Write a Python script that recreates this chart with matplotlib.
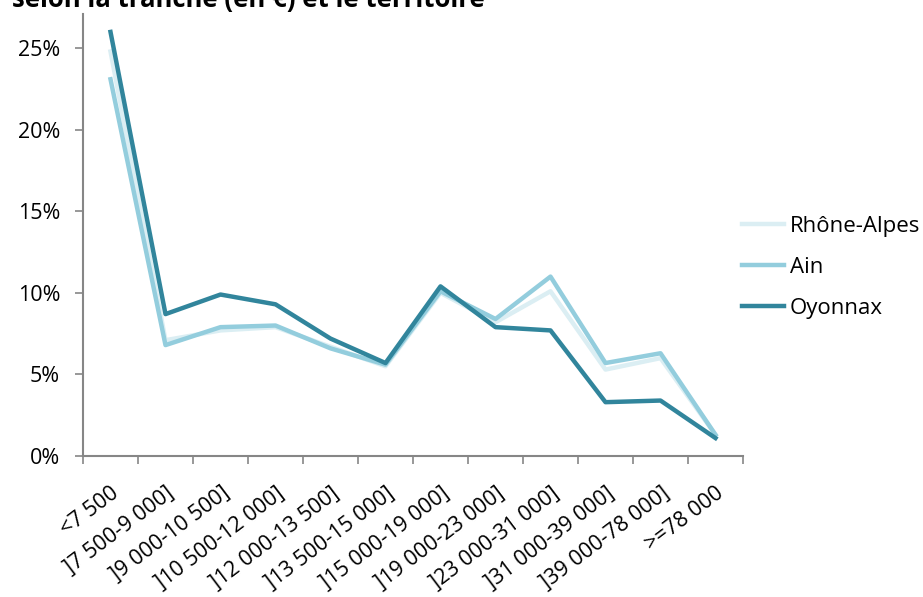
import numpy as np
import matplotlib
matplotlib.use("Agg")
import matplotlib.pyplot as plt

plt.rcParams['font.family'] = ['Open Sans', 'DejaVu Sans']

categories = ['<7 500', ']7 500-9 000]', ']9 000-10 500]', ']10 500-12 000]',
              ']12 000-13 500]', ']13 500-15 000]', ']15 000-19 000]', ']19 000-23 000]',
              ']23 000-31 000]', ']31 000-39 000]', ']39 000-78 000]', '>=78 000']

rhone_alpes = [24.8, 7.1, 7.7, 7.9, 6.7, 5.5, 10.0, 8.2, 10.1, 5.3, 6.0, 1.3]
ain = [23.1, 6.8, 7.9, 8.0, 6.6, 5.6, 10.1, 8.4, 11.0, 5.7, 6.3, 1.3]
oyonnax = [26.0, 8.7, 9.9, 9.3, 7.2, 5.7, 10.4, 7.9, 7.7, 3.3, 3.4, 1.1]

series = [('Rhône-Alpes', rhone_alpes, '#dbeef3'),
          ('Ain', ain, '#93cddd'),
          ('Oyonnax', oyonnax, '#31859c')]

fig = plt.figure(figsize=(9.23, 5.97), dpi=100)
ax = fig.add_axes([83/923, 141/597, 660/923, 442/597])

x = np.arange(len(categories))
for name, vals, col in series:
    ax.plot(x, vals, color=col, lw=3.2, label=name)

ax.set_xlim(-0.5, len(categories) - 0.5)
ax.set_ylim(0, 27.1)
ax.set_yticks([0, 5, 10, 15, 20, 25])
ax.set_yticklabels(['0%', '5%', '10%', '15%', '20%', '25%'], fontsize=15.5)

# ticks on category boundaries, labels at centres
ax.set_xticks(np.arange(-0.5, len(categories)))
ax.set_xticklabels([])
ax.set_xticks(x, minor=True)
ax.set_xticklabels(categories, minor=True, rotation=37, ha='right',
                   rotation_mode='anchor', fontsize=15.5)
ax.tick_params(axis='x', which='minor', length=0, pad=19)
ax.tick_params(axis='x', which='major', length=5.5, color='#868686', width=1.2)
ax.tick_params(axis='y', length=5.5, color='#868686', width=1.2, pad=11)

for s in ['top', 'right']:
    ax.spines[s].set_visible(False)
for s in ['left', 'bottom']:
    ax.spines[s].set_color('#868686')
    ax.spines[s].set_linewidth(1.5)

fig.legend(loc='center left', bbox_to_anchor=(742/923, 1 - 267/597), frameon=False,
           fontsize=16, handlelength=1.9, handletextpad=0.25, labelspacing=0.9,
           borderaxespad=0, borderpad=0)

fig.text(12/923, 1 - 7/597, 'selon la tranche (en €) et le territoire',
         fontsize=18.5, fontweight='bold', va='baseline', ha='left')

fig.savefig('out.png', dpi=100)
